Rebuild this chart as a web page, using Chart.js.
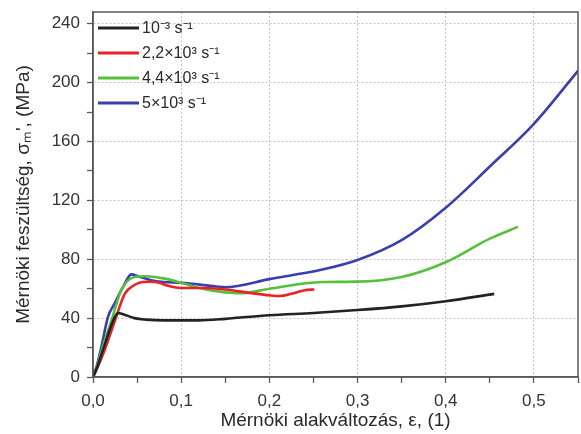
<!DOCTYPE html>
<html>
<head>
<meta charset="utf-8">
<script src="https://cdn.jsdelivr.net/npm/chart.js@4/dist/chart.umd.min.js"></script>
<style>
  html, body { margin: 0; padding: 0; background: #fff; }
  canvas { display: block; }
</style>
</head>
<body>
<canvas id="chart" width="581" height="434"></canvas>
<script>
// strain (1) and stress (MPa)
const seriesLabels = ['10\u207B\u00B3 s\u207B\u00B9', '2,2\u00D710\u00B3 s\u207B\u00B9', '4,4\u00D710\u00B3 s\u207B\u00B9', '5\u00D710\u00B3 s\u207B\u00B9'];
const seriesColors = ['#222222', '#ec2027', '#55c13b', '#3a3eae'];

const blackStrain = [0, 0.005, 0.01, 0.015, 0.02, 0.025, 0.028, 0.035, 0.047, 0.06, 0.08, 0.1, 0.12, 0.15, 0.2, 0.25, 0.3, 0.35, 0.4, 0.455];
const blackStress = [0, 7, 16, 25, 34, 41, 43.5, 42.5, 40, 39, 38.5, 38.5, 38.5, 39.5, 42, 43.5, 45.5, 48, 51.5, 56.5];

const redStrain = [0, 0.004, 0.013, 0.025, 0.036, 0.047, 0.056, 0.066, 0.075, 0.085, 0.1, 0.12, 0.15, 0.18, 0.2, 0.212, 0.225, 0.24, 0.251];
const redStress = [0, 5, 18, 38.5, 56.5, 62.5, 64.5, 64.8, 64, 62, 60.5, 60.5, 59.5, 57, 55.5, 55, 56.5, 59, 59.5];

const greenStrain = [0, 0.004, 0.011, 0.021, 0.032, 0.047, 0.059, 0.08, 0.1, 0.12, 0.15, 0.17, 0.2, 0.26, 0.3, 0.35, 0.4, 0.45, 0.482];
const greenStress = [0, 6, 20.5, 38.5, 59, 68, 68.5, 67, 64, 60.5, 57.5, 57, 60, 64.5, 64.8, 68, 78, 94, 102];

const blueStrain = [0, 0.004, 0.0095, 0.017, 0.0246, 0.034, 0.0435, 0.051, 0.066, 0.08, 0.1, 0.14, 0.15, 0.2, 0.26, 0.3, 0.35, 0.4, 0.45, 0.5, 0.55];
const blueStress = [0, 7, 20.5, 40.8, 50, 61, 69.7, 68.5, 65.8, 64.6, 64, 61.5, 61, 66.5, 73, 79.5, 93, 115, 143, 172, 208];

const xMin = 0, xMax = 0.55, xStep = 0.05;
const yMin = 0, yMax = 248, yStep = 20;

function toPoints(xs, ys) {
    return xs.map((x, i) => ({ x: x, y: ys[i] }));
}

const strains = [blackStrain, redStrain, greenStrain, blueStrain];
const stresses = [blackStress, redStress, greenStress, blueStress];

const datasets = seriesLabels.map((label, i) => ({
    label: label,
    data: toPoints(strains[i], stresses[i]),
    borderColor: seriesColors[i],
    borderWidth: 2.6,
    pointRadius: 0,
    fill: false,
    cubicInterpolationMode: 'monotone'
}));

const fontFamily = '"Liberation Sans", Arial, sans-serif';

// legend drawn inside the plot, top-left; frame around the chart area
const insideLegend = {
    id: 'insideLegend',
    afterDraw(chart) {
        const { ctx, chartArea } = chart;
        ctx.save();
        ctx.strokeStyle = '#5a5a5a';
        ctx.lineWidth = 1.5;
        ctx.strokeRect(chartArea.left, chartArea.top, chartArea.right - chartArea.left, chartArea.bottom - chartArea.top);

        ctx.font = '16px ' + fontFamily;
        ctx.textBaseline = 'middle';
        chart.data.datasets.forEach((ds, i) => {
            const y = chartArea.top + 16 + i * 25;
            ctx.strokeStyle = ds.borderColor;
            ctx.lineWidth = 3;
            ctx.beginPath();
            ctx.moveTo(chartArea.left + 5, y);
            ctx.lineTo(chartArea.left + 46, y);
            ctx.stroke();
            ctx.fillStyle = '#2a2a2a';
            ctx.fillText(ds.label, chartArea.left + 49, y + 1);
        });
        ctx.restore();
    }
};

new Chart(document.getElementById('chart'), {
    type: 'line',
    data: { datasets: datasets },
    plugins: [insideLegend],
    options: {
        responsive: false,
        animation: false,
        layout: { padding: { top: 12, right: 3, left: 0, bottom: 0 } },
        plugins: {
            legend: { display: false },
            tooltip: { enabled: false }
        },
        scales: {
            x: {
                type: 'linear',
                min: xMin,
                max: xMax,
                afterFit: (scale) => {
                    scale.height = 57;
                    scale.paddingLeft = 0;
                    scale.paddingRight = 0;
                },
                ticks: {
                    stepSize: xStep,
                    includeBounds: false,
                    maxRotation: 0,
                    autoSkip: false,
                    padding: 8,
                    color: '#333',
                    font: { family: fontFamily, size: 17 },
                    callback: (v) => Math.round(v * 100) % 10 === 0 ? v.toFixed(1).replace('.', ',') : ''
                },
                grid: {
                    color: (c) => c.tick && Math.round(c.tick.value * 100) % 10 === 0 ? '#c4c4c4' : 'rgba(0,0,0,0)',
                    lineWidth: 1,
                    tickColor: '#5a5a5a',
                    tickLength: 6,
                    tickWidth: 1.3
                },
                border: { color: '#5a5a5a', width: 1.5, dash: [2, 2] },
                title: {
                    display: true,
                    text: 'Mérnöki alakváltozás, ε, (1)',
                    color: '#2a2a2a',
                    font: { family: fontFamily, size: 19, lineHeight: 1.2 },
                    padding: { top: 0, bottom: 2 }
                }
            },
            y: {
                type: 'linear',
                min: yMin,
                max: yMax,
                afterFit: (scale) => {
                    scale.width = 93;
                    scale.paddingTop = 0;
                    scale.paddingBottom = 0;
                },
                ticks: {
                    stepSize: yStep,
                    includeBounds: false,
                    autoSkip: false,
                    padding: 7,
                    color: '#333',
                    font: { family: fontFamily, size: 17 },
                    callback: (v) => v % 40 === 0 ? String(v) : ''
                },
                grid: {
                    color: (c) => c.tick && c.tick.value % 40 === 0 ? '#c4c4c4' : 'rgba(0,0,0,0)',
                    lineWidth: 1,
                    tickColor: '#5a5a5a',
                    tickLength: 6,
                    tickWidth: 1.3
                },
                border: { color: '#5a5a5a', width: 1.5, dash: [2, 2] },
                title: {
                    display: true,
                    text: 'Mérnöki feszültség, σₘ\', (MPa)',
                    color: '#2a2a2a',
                    font: { family: fontFamily, size: 19, lineHeight: 1.2 },
                    padding: { top: 12, bottom: 0 }
                }
            }
        }
    }
});
</script>
</body>
</html>
